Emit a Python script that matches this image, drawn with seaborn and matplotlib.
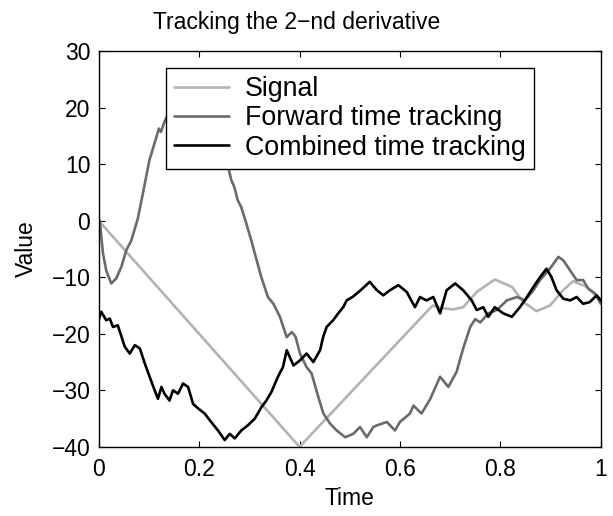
import matplotlib
matplotlib.use("Agg")
import matplotlib.pyplot as plt
from matplotlib.legend_handler import HandlerLine2D
import seaborn as sns
import pandas as pd

# Reference signal: triangular ramp followed by a slow oscillation
signal_t = [0.0, 0.400, 0.665, 0.680, 0.706, 0.726, 0.753, 0.789, 0.823, 0.846,
            0.872, 0.899, 0.925, 0.945, 0.972, 1.0]
signal_v = [0.0, -40.0, -15.0, -15.4, -15.7, -15.3, -12.6, -10.4, -11.7, -14.4,
            -16.0, -15.0, -12.3, -10.7, -11.7, -14.1]

# Estimate obtained with forward-time tracking
forward_t = [0.0, 0.002, 0.0086, 0.015, 0.025, 0.035, 0.045, 0.055, 0.065, 0.078,
             0.092, 0.101, 0.115, 0.120, 0.124, 0.131, 0.15, 0.19, 0.23, 0.258,
             0.264, 0.270, 0.277, 0.284, 0.294, 0.304, 0.311, 0.324, 0.337, 0.348,
             0.361, 0.3745, 0.3845, 0.392, 0.401, 0.414, 0.424, 0.4375, 0.4475, 0.461,
             0.474, 0.491, 0.507, 0.5205, 0.534, 0.547, 0.554, 0.574, 0.590, 0.600,
             0.620, 0.627, 0.643, 0.660, 0.680, 0.6965, 0.713, 0.726, 0.740, 0.750,
             0.760, 0.776, 0.793, 0.813, 0.833, 0.849, 0.866, 0.879, 0.896, 0.906,
             0.9155, 0.9255, 0.939, 0.952, 0.965, 0.975, 0.989, 1.0]
forward_v = [0.0, 0.1, -5.8, -8.8, -11.1, -10.2, -8.2, -5.2, -3.5, 0.4,
             6.6, 10.7, 14.8, 16.3, 15.7, 17.5, 21.0, 22.5, 18.0, 9.5,
             7.2, 6.0, 3.6, 2.4, -0.5, -3.5, -5.8, -10.0, -13.5, -14.7,
             -17.0, -20.6, -19.7, -20.5, -23.5, -25.9, -27.0, -31.2, -34.1, -35.9,
             -37.1, -38.3, -37.7, -36.5, -38.3, -36.5, -36.2, -35.6, -37.1, -35.6,
             -34.1, -32.7, -34.1, -31.6, -27.6, -29.4, -26.7, -22.6, -18.8, -17.4,
             -18.0, -16.4, -15.8, -14.1, -13.5, -14.1, -12.3, -10.5, -8.8, -7.6,
             -6.4, -7.0, -8.8, -10.5, -10.5, -12.0, -12.9, -14.7]

# Estimate obtained with combined-time tracking
combined_t = [0.0, 0.005, 0.015, 0.022, 0.0285, 0.038, 0.052, 0.062, 0.072, 0.082,
              0.092, 0.1015, 0.1115, 0.118, 0.125, 0.131, 0.141, 0.148, 0.158, 0.168,
              0.178, 0.188, 0.198, 0.211, 0.224, 0.2376, 0.251, 0.261, 0.271, 0.284,
              0.297, 0.311, 0.324, 0.334, 0.344, 0.357, 0.367, 0.3745, 0.388, 0.401,
              0.414, 0.4275, 0.441, 0.447, 0.454, 0.467, 0.477, 0.487, 0.494, 0.507,
              0.5205, 0.540, 0.554, 0.567, 0.580, 0.597, 0.6135, 0.630, 0.640, 0.653,
              0.6665, 0.680, 0.693, 0.710, 0.726, 0.743, 0.753, 0.766, 0.776, 0.789,
              0.806, 0.823, 0.839, 0.853, 0.866, 0.879, 0.892, 0.902, 0.912, 0.9255,
              0.939, 0.952, 0.965, 0.978, 0.992, 1.0]
combined_v = [-17.6, -16.1, -17.6, -17.3, -18.8, -18.5, -22.3, -23.5, -22.0, -22.6,
              -25.3, -27.6, -30.0, -31.5, -29.4, -30.6, -31.8, -30.0, -30.6, -28.8,
              -29.4, -32.4, -33.2, -34.1, -35.6, -37.1, -38.8, -37.7, -38.5, -37.1,
              -36.2, -35.0, -33.0, -31.8, -30.3, -27.6, -25.9, -22.9, -25.6, -24.7,
              -23.5, -25.0, -22.9, -20.6, -18.8, -17.6, -16.4, -15.3, -14.1, -13.4,
              -12.4, -10.8, -12.3, -13.2, -12.3, -11.4, -12.6, -15.3, -13.5, -14.1,
              -13.5, -16.4, -12.3, -11.1, -12.3, -14.1, -15.8, -15.3, -17.0, -15.3,
              -16.4, -17.0, -15.3, -13.5, -11.7, -10.0, -8.5, -10.0, -12.3, -13.8,
              -14.1, -13.5, -14.7, -14.4, -13.2, -14.1]

series_names = ["Signal", "Forward time tracking", "Combined time tracking"]
series_colors = ["#b3b3b3", "#6b6b6b", "#000000"]

x_ticks = [0, 0.2, 0.4, 0.6, 0.8, 1]
x_tick_labels = ["0", "0.2", "0.4", "0.6", "0.8", "1"]
y_ticks = [-40, -30, -20, -10, 0, 10, 20, 30]
y_tick_labels = ["\u221240", "\u221230", "\u221220", "\u221210", "0", "10", "20", "30"]


class InsetLine(HandlerLine2D):
    """Legend line drawn with a small left inset inside its handle box."""

    def __init__(self, inset, **kw):
        super().__init__(**kw)
        self.inset = inset

    def create_artists(self, legend, orig_handle, xdescent, ydescent,
                       width, height, fontsize, trans):
        artists = super().create_artists(legend, orig_handle, xdescent, ydescent,
                                         width, height, fontsize, trans)
        for a in artists:
            xd = list(a.get_xdata())
            if len(xd) == 2:
                a.set_xdata([xd[0] + self.inset, xd[1]])
        return artists


sns.set_style("white")
plt.rcParams["font.family"] = ["Liberation Sans", "DejaVu Sans"]
plt.rcParams["axes.unicode_minus"] = True
plt.rcParams["text.color"] = "black"
plt.rcParams["axes.labelcolor"] = "black"

fig = plt.figure(figsize=(6.13, 5.16), dpi=100)
ax = fig.add_axes([0.161, 0.134, 0.819, 0.767])

frames = [
    pd.DataFrame({"t": signal_t, "v": signal_v}),
    pd.DataFrame({"t": forward_t, "v": forward_v}),
    pd.DataFrame({"t": combined_t, "v": combined_v}),
]
for df, name, col in zip(frames, series_names, series_colors):
    sns.lineplot(data=df, x="t", y="v", ax=ax, color=col, linewidth=1.9,
                 sort=False, estimator=None, label=name)

ax.set_xlim(0, 1)
ax.set_ylim(-40, 30)
ax.set_xticks(x_ticks)
ax.set_xticklabels(x_tick_labels)
ax.set_yticks(y_ticks)
ax.set_yticklabels(y_tick_labels)
ax.tick_params(direction="in", length=4, width=0.8, labelsize=16.5,
               colors="black", labelcolor="black",
               top=True, right=True, bottom=True, left=True)
ax.tick_params(axis="x", pad=8)
ax.tick_params(axis="y", pad=6)
for s in ax.spines.values():
    s.set_color("black")
    s.set_linewidth(1.0)
    s.set_visible(True)

ax.set_xlabel("Time", fontsize=16.5, labelpad=4, color="black")
ax.set_ylabel("Value", fontsize=16.5, labelpad=10, color="black")
fig.text(297 / 613, 1 - 22 / 516, "Tracking the 2\u2212nd derivative",
         ha="center", va="center", fontsize=16.5, color="black")

handles, labels = ax.get_legend_handles_labels()
leg = ax.legend(handles, labels, loc="upper left", bbox_to_anchor=(0.134, 0.957),
                fontsize=19.3, frameon=True, fancybox=False, framealpha=1,
                edgecolor="black", handlelength=2.05, handletextpad=0.6,
                labelspacing=0.12, borderpad=0.3, borderaxespad=0,
                handler_map={h: InsetLine(9.5) for h in handles})
leg.get_frame().set_linewidth(1.0)
for t in leg.get_texts():
    t.set_color("black")

fig.savefig("out.png", dpi=100)
